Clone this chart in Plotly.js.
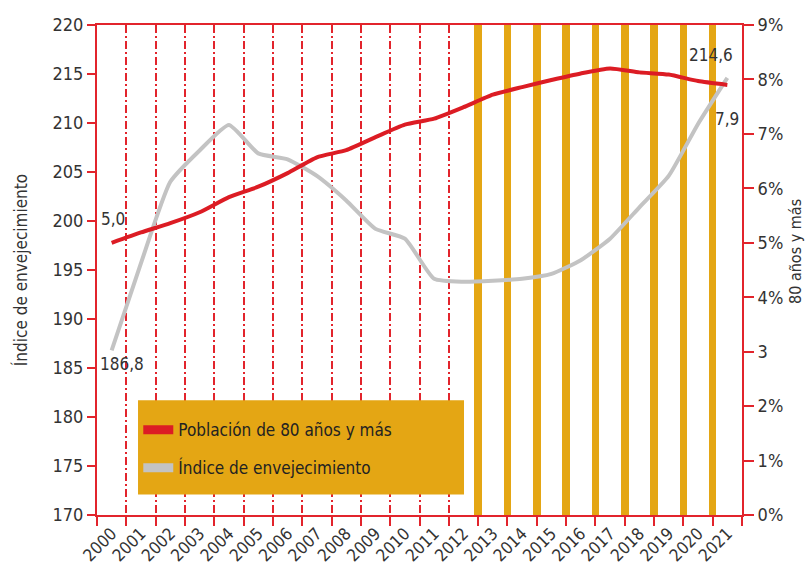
<!DOCTYPE html>
<html>
<head>
<meta charset="utf-8">
<script src="https://cdn.plot.ly/plotly-3.0.1.min.js"></script>
<style>
  html, body { margin: 0; padding: 0; background: #fff; }
  #chart { width: 806px; height: 568px; }
</style>
</head>
<body>
<div id="chart"></div>
<script>
// ---- data ----
const years = ['2000','2001','2002','2003','2004','2005','2006','2007','2008','2009','2010',
               '2011','2012','2013','2014','2015','2016','2017','2018','2019','2020','2021'];
// Población de 80 años y más (%), right axis
const pob80 = [5.0, 5.19, 5.36, 5.56, 5.84, 6.03, 6.28, 6.57, 6.70, 6.94, 7.17,
               7.28, 7.49, 7.72, 7.86, 7.99, 8.11, 8.20, 8.13, 8.09, 7.97, 7.9];
// Índice de envejecimiento, left axis
const indiceEnv = [186.8, 195.7, 204.0, 207.2, 209.8, 206.9, 206.3, 204.6, 202.1, 199.2, 198.2,
                   194.1, 193.8, 193.9, 194.1, 194.6, 196.0, 198.2, 201.4, 204.6, 209.9, 214.6];
// years whose left boundary is highlighted with an orange band
const highlightYears = ['2013','2014','2015','2016','2017','2018','2019','2020','2021'];
const leftTicks = [170,175,180,185,190,195,200,205,210,215,220];
const rightTickVals = [0,1,2,3,4,5,6,7,8,9];
const rightTickText = ['0%','1%','2%','3','4%','5%','6%','7%','8%','9%'];
const seriesNames = ['Población de 80 años y más', 'Índice de envejecimiento'];
const leftTitle = 'Índice de envejecimiento';
const rightTitle = '80 años y más';

// ---- style ----
const RED = '#DC1C24';
const AXRED = '#E2242C';
const GRAY = '#C3C3C3';
const ORANGE = '#E4A614';
const TXT = '#333333';
const FONT = '"DejaVu Sans Condensed", "Liberation Sans Narrow", "DejaVu Sans", sans-serif';
const leftRange = [170, 220];
const rightRange = [0, 9];
const fmt = v => v.toFixed(1).replace('.', ',');

const W = 806, H = 568, M = { l: 97, r: 64, t: 25, b: 53 };
const bandW = 0.26;
const traces = [
  {
    type: 'bar', x: highlightYears,
    y: highlightYears.map(() => leftRange[1] - leftRange[0]),
    base: leftRange[0], width: bandW, offset: -0.5 - bandW / 2,
    marker: { color: ORANGE, line: { width: 0 } },
    xaxis: 'x', yaxis: 'y', showlegend: false, hoverinfo: 'skip'
  },
  {
    type: 'scatter', mode: 'lines', x: years, y: indiceEnv, name: seriesNames[1],
    line: { color: GRAY, width: 4, shape: 'spline', smoothing: 0.5 },
    xaxis: 'x', yaxis: 'y', showlegend: false
  },
  {
    type: 'scatter', mode: 'lines', x: years, y: pob80, name: seriesNames[0],
    line: { color: RED, width: 4, shape: 'spline', smoothing: 0.5 },
    xaxis: 'x', yaxis: 'y2', showlegend: false
  },
  // legend-only entries (thicker swatches)
  {
    type: 'scatter', mode: 'lines', x: [null], y: [null], name: seriesNames[0],
    line: { color: RED, width: 9 }, xaxis: 'x', yaxis: 'y', legendgroup: 'a'
  },
  {
    type: 'scatter', mode: 'lines', x: [null], y: [null], name: seriesNames[1],
    line: { color: GRAY, width: 9 }, xaxis: 'x', yaxis: 'y', legendgroup: 'b'
  }
];

const n = years.length;
const labelFont = { family: FONT, size: 17, color: TXT };
const annotations = [
  { x: 0, y: pob80[0], xref: 'x', yref: 'y2', text: fmt(pob80[0]), xshift: 1, yshift: 24 },
  { x: 0, y: indiceEnv[0], xref: 'x', yref: 'y', text: fmt(indiceEnv[0]), xshift: 10, yshift: -14 },
  { x: n - 1, y: indiceEnv[n-1], xref: 'x', yref: 'y', text: fmt(indiceEnv[n-1]), xshift: -16, yshift: 23 },
  { x: n - 1, y: pob80[n-1], xref: 'x', yref: 'y2', text: fmt(pob80[n-1]), xshift: 0, yshift: -34 },
  { x: (795 - M.l) / (W - M.l - M.r), y: (H - M.b - 252) / (H - M.t - M.b),
    xref: 'paper', yref: 'paper', xanchor: 'center', yanchor: 'middle',
    text: rightTitle, textangle: -90, font: { family: FONT, size: 16, color: TXT } }
].map(a => Object.assign({ showarrow: false, font: labelFont }, a));

const layout = {
  width: W, height: H,
  margin: { l: M.l, r: M.r, t: M.t, b: M.b, pad: 0 },
  paper_bgcolor: '#ffffff', plot_bgcolor: '#ffffff',
  font: { family: FONT, size: 16, color: TXT },
  showlegend: true,
  bargap: 0,
  xaxis: {
    type: 'category', categoryorder: 'array', categoryarray: years,
    range: [-0.5, n - 0.5],
    tickson: 'boundaries', ticks: 'outside', ticklen: 9, tickwidth: 2, tickcolor: AXRED,
    tickangle: -45, tickfont: { family: FONT, size: 17, color: TXT },
    showline: true, linecolor: AXRED, linewidth: 2, mirror: true,
    showgrid: true, gridcolor: AXRED, gridwidth: 2, griddash: '8px,3px,2px,3px',
    zeroline: false, fixedrange: true
  },
  yaxis: {
    range: leftRange, tickvals: leftTicks,
    ticks: 'outside', ticklen: 8, tickwidth: 2, tickcolor: AXRED,
    tickfont: { family: FONT, size: 18, color: TXT },
    showline: true, linecolor: AXRED, linewidth: 2,
    showgrid: false, zeroline: false,
    title: { text: leftTitle, font: { family: FONT, size: 17, color: TXT }, standoff: 21 }
  },
  yaxis2: {
    overlaying: 'y', side: 'right', range: rightRange,
    tickvals: rightTickVals, ticktext: rightTickText,
    ticks: 'outside', ticklen: 10, tickwidth: 2, tickcolor: AXRED,
    tickfont: { family: FONT, size: 18, color: TXT },
    showline: true, linecolor: AXRED, linewidth: 2,
    showgrid: false, zeroline: false
  },
  legend: {
    x: 0.064, xanchor: 'left', y: 0.21, yanchor: 'top',
    bgcolor: 'rgba(0,0,0,0)', borderwidth: 0,
    traceorder: 'grouped', tracegroupgap: 13,
    font: { family: FONT, size: 17, color: '#222222' }
  },
  shapes: [{
    type: 'rect', xref: 'paper', yref: 'paper', layer: 'above',
    x0: 0.0636, x1: 0.569, y0: 0.042, y1: 0.234,
    fillcolor: ORANGE, line: { width: 0 }
  }],
  annotations: annotations
};

Plotly.newPlot('chart', traces, layout, { displayModeBar: false, staticPlot: true });
</script>
</body>
</html>
